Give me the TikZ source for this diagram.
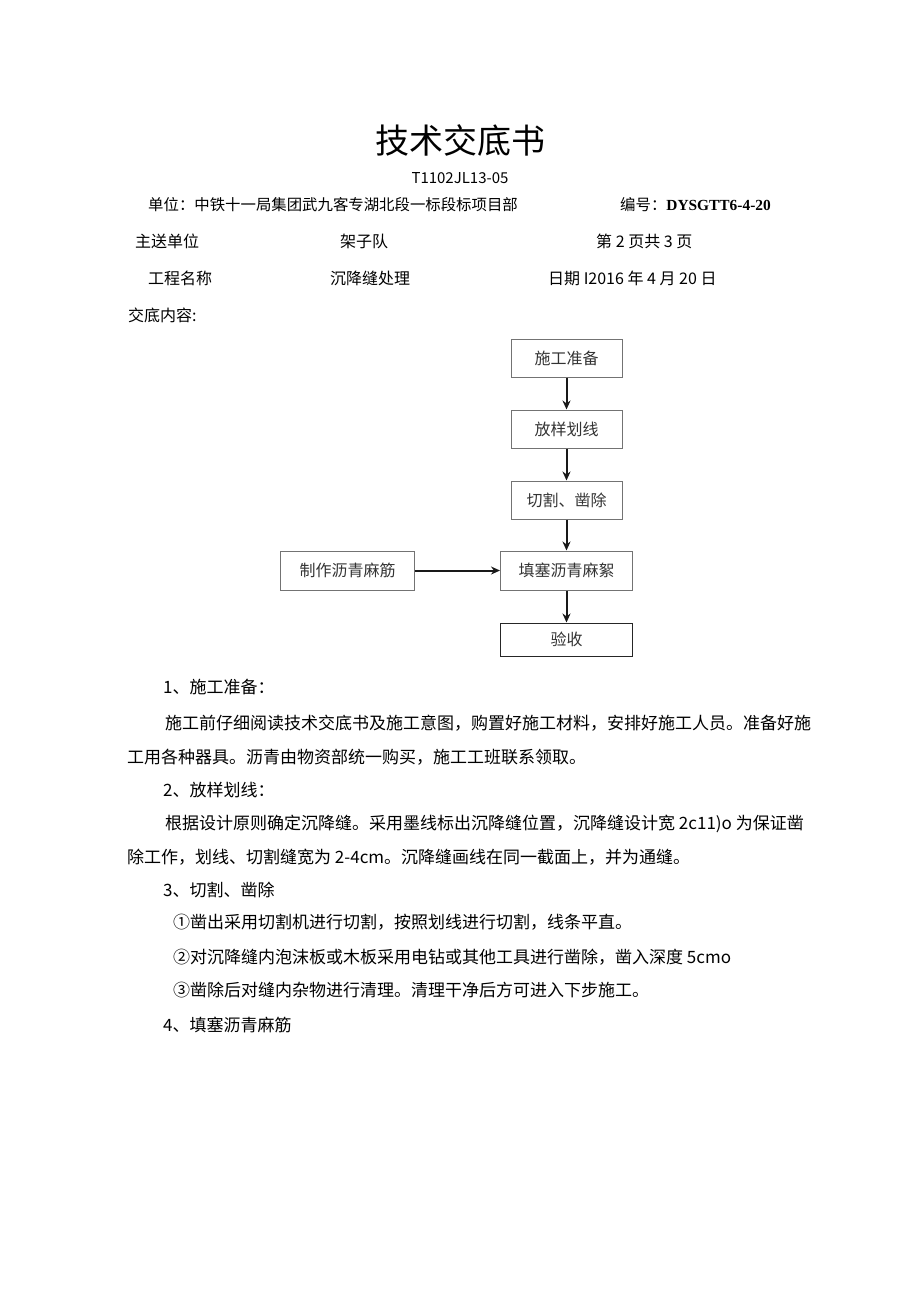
\documentclass[tikz,border=0pt]{standalone}
\usepackage{fontspec}
\setmainfont{Noto Sans CJK SC}
\newfontfamily\timesfont{Liberation Serif}
\usetikzlibrary{arrows.meta,positioning}
\tikzset{
flow/.style={draw=black!90,->,>={Stealth[length=9pt,width=8pt]},line width=2pt},
stage/.style={rectangle,draw=black!55,line width=1pt,minimum width=111pt,
    minimum height=38pt,inner sep=0pt,text=black!80,
    font=\fontsize{16}{18}\selectfont},
wide/.style={minimum width=132pt,minimum height=39pt},
head/.style={anchor=west,inner sep=0pt,font=\fontsize{16}{18}\selectfont},
para/.style={anchor=west,inner sep=0pt,font=\fontsize{17}{20}\selectfont},
}

\begin{document}
\begin{tikzpicture}[x=1pt,y=-1pt]
    \useasboundingbox (0,0) rectangle (920,1301);

    % header
    \node (title) at (460,140) {\fontsize{34}{38}\selectfont 技术交底书};
    \node (code) at (460,178) {\fontsize{15}{17}\selectfont T1102JL13-05};
    \node[head,font=\fontsize{15.4}{17}\selectfont] (unit) at (148,205)
        {单位：中铁十一局集团武九客专湖北段一标段标项目部};
    \node[head,font=\fontsize{15.4}{17}\selectfont] (docno) at (620,205)
        {编号：{\timesfont\bfseries DYSGTT6-4-20}};
    \node[head] (sendto) at (135,241) {主送单位};
    \node[head] (team) at (340,241) {架子队};
    \node[head] (page) at (596,241) {第 2 页共 3 页};
    \node[head] (project) at (148,278) {工程名称};
    \node[head] (joint) at (330,278) {沉降缝处理};
    \node[head] (date) at (548,278) {日期 I2016 年 4 月 20 日};
    \node[head] (content) at (128,315) {交底内容:};

    % flow chart
    \node[stage] (prep) at (566.5,358) {施工准备};
    \node[stage,below=32pt of prep] (layout) {放样划线};
    \node[stage,below=32pt of layout] (cut) {切割、凿除};
    \node[stage,wide,below=31pt of cut] (fill) {填塞沥青麻絮};
    \node[stage,wide,minimum height=33pt,draw=black!85,line width=1.5pt,
        below=32pt of fill] (accept) {验收};
    \node[stage,minimum width=134pt,minimum height=39pt,left=85pt of fill]
        (rope) {制作沥青麻筋};

    \draw[flow] (prep) -- (layout);
    \draw[flow] (layout) -- (cut);
    \draw[flow] (cut) -- (fill);
    \draw[flow] (fill) -- (accept);
    \draw[flow] (rope) -- (fill);

    % text
    \node[para] (s1) at (163,687) {1、施工准备：};
    \node[para] (s1a) at (165,723)
        {施工前仔细阅读技术交底书及施工意图，购置好施工材料，安排好施工人员。准备好施};
    \node[para] (s1b) at (127,757)
        {工用各种器具。沥青由物资部统一购买，施工工班联系领取。};
    \node[para] (s2) at (163,790) {2、放样划线：};
    \node[para] (s2a) at (165,824)
        {根据设计原则确定沉降缝。采用墨线标出沉降缝位置，沉降缝设计宽 2c11)o 为保证凿};
    \node[para] (s2b) at (127,857)
        {除工作，划线、切割缝宽为 2-4cm。沉降缝画线在同一截面上，并为通缝。};
    \node[para] (s3) at (163,890) {3、切割、凿除};
    \node[para] (s3a) at (173,922)
        {①凿出采用切割机进行切割，按照划线进行切割，线条平直。};
    \node[para] (s3b) at (173,957)
        {②对沉降缝内泡沫板或木板采用电钻或其他工具进行凿除，凿入深度 5cmo};
    \node[para] (s3c) at (173,990)
        {③凿除后对缝内杂物进行清理。清理干净后方可进入下步施工。};
    \node[para] (s4) at (163,1025) {4、填塞沥青麻筋};
\end{tikzpicture}
\end{document}
